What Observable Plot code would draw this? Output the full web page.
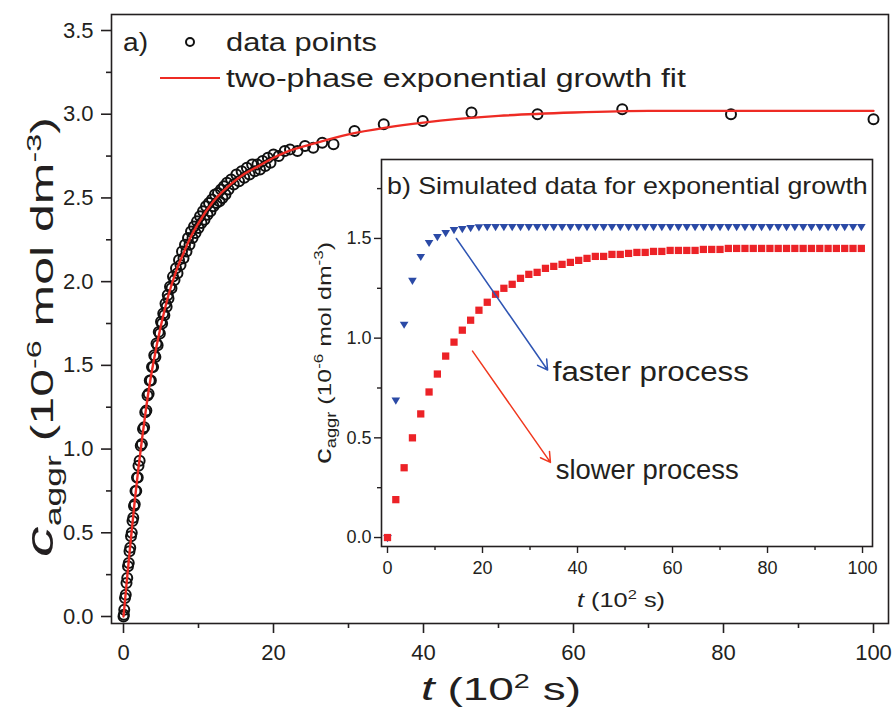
<!DOCTYPE html>
<html><head><meta charset="utf-8">
<script src="https://cdn.jsdelivr.net/npm/d3@7"></script>
<script src="https://cdn.jsdelivr.net/npm/@observablehq/plot@0.6"></script>
<style>
body{margin:0;background:#fff}
#wrap{position:relative;width:893px;height:707px}
#inset{position:absolute;left:300px;top:150px;width:580px;height:470px}
</style>
</head><body>
<div id="wrap"><div id="main"></div><div id="inset"></div></div>
<script>
// ---- main panel a): measured data points [t (10^2 s), c_aggr (10^-6 mol dm^-3)] ----
const mainPoints = [
 [0,0.00],[0.05,0.01],[0.1,0.04],[0.2,0.11],[0.3,0.13],[0.4,0.20],[0.5,0.23],[0.6,0.30],[0.7,0.32],[0.8,0.39],[0.9,0.41],
 [1.0,0.48],[1.1,0.50],[1.2,0.57],[1.3,0.59],[1.4,0.66],[1.5,0.67],[1.6,0.75],[1.7,0.75],[1.8,0.83],[1.9,0.83],[2.0,0.90],
 [2.15,0.93],[2.3,1.02],[2.45,1.03],[2.6,1.12],[2.75,1.13],[2.9,1.22],[3.05,1.23],[3.2,1.32],[3.35,1.33],[3.5,1.41],[3.65,1.41],
 [3.8,1.49],[3.95,1.49],[4.1,1.56],[4.25,1.55],[4.4,1.63],[4.55,1.62],[4.7,1.70],[4.85,1.69],[5.0,1.76],[5.15,1.75],[5.3,1.81],
 [5.45,1.80],[5.6,1.87],[5.75,1.85],[5.9,1.92],
 [6.0,1.90],[6.2,1.97],[6.4,1.96],[6.6,2.03],[6.8,2.01],[7.0,2.08],[7.2,2.05],[7.4,2.13],[7.6,2.10],[7.8,2.18],[8.0,2.14],
 [8.2,2.22],[8.4,2.18],[8.6,2.26],[8.8,2.22],[9.0,2.30],[9.2,2.26],[9.4,2.33],[9.6,2.29],[9.8,2.36],[10.0,2.32],[10.2,2.39],
 [10.4,2.35],[10.6,2.42],[10.8,2.37],[11.0,2.45],[11.2,2.40],[11.4,2.47],[11.6,2.42],[11.8,2.49],[12.0,2.45],[12.2,2.52],
 [12.4,2.47],[12.6,2.53],[12.8,2.48],[13.0,2.55],[13.2,2.50],[13.4,2.57],[13.6,2.52],[13.8,2.59],
 [14.0,2.55],[14.35,2.61],[14.7,2.58],[15.05,2.64],[15.4,2.60],[15.75,2.66],[16.1,2.62],[16.45,2.68],[16.8,2.64],[17.15,2.70],
 [17.5,2.66],[17.85,2.70],[18.2,2.67],[18.55,2.72],[18.9,2.69],[19.25,2.74],[19.6,2.71],[20.0,2.76],
 [20.7,2.75],[21.5,2.78],[22.2,2.79],[23.2,2.78],[24.2,2.81],[25.3,2.80],[26.5,2.83],[28.0,2.82],
 [30.8,2.90],[34.7,2.94],[39.9,2.96],[46.4,3.01],[55.2,3.00],[66.5,3.03],[81.0,3.00],[100,2.97]
];
// two-phase exponential growth fit
const fitT = [0,0.5,1,1.5,2,2.5,3,3.5,4,5,6,7,8,9,10,12,14,16,18,20,22,25,30,35,40,50,60,70,80,100];
const fitC = [0,0.24,0.47,0.69,0.89,1.07,1.24,1.39,1.52,1.74,1.92,2.06,2.17,2.27,2.35,2.48,2.57,2.64,2.69,2.74,2.78,2.82,2.88,2.92,2.95,2.99,3.01,3.02,3.02,3.02];
const mainXTicks = [0,20,40,60,80,100];
const mainXMinor = [10,30,50,70,90];
const mainYTicks = [0,0.5,1,1.5,2,2.5,3,3.5];
const mainYMinor = [0.25,0.75,1.25,1.75,2.25,2.75,3.25];

// ---- inset b): simulated data ----
const simT = [0,1.75,3.5,5.25,7,8.75,10.5,12.25,14,15.75,17.5,19.25,21,22.75,24.5,26.25,28,29.75,31.5,33.25,35,36.75,38.5,40.25,42,43.75,45.5,47.25,49,50.75,52.5,54.25,56,57.75,59.5,61.25,63,64.75,66.5,68.25,70,71.75,73.5,75.25,77,78.75,80.5,82.25,84,85.75,87.5,89.25,91,92.75,94.5,96.25,98,99.75];
const fastC = [0,0.69,1.07,1.29,1.41,1.48,1.51,1.53,1.545,1.55,1.555,1.558,1.56,1.56,1.56,1.56,1.56,1.56,1.56,1.56,1.56,1.56,1.56,1.56,1.56,1.56,1.56,1.56,1.56,1.56,1.56,1.56,1.56,1.56,1.56,1.56,1.56,1.56,1.56,1.56,1.56,1.56,1.56,1.56,1.56,1.56,1.56,1.56,1.56,1.56,1.56,1.56,1.56,1.56,1.56,1.56,1.56,1.56];
const slowC = [0,0.19,0.35,0.50,0.62,0.73,0.82,0.91,0.98,1.04,1.09,1.14,1.18,1.22,1.25,1.27,1.30,1.32,1.33,1.35,1.36,1.37,1.38,1.39,1.40,1.41,1.41,1.42,1.42,1.425,1.43,1.43,1.435,1.435,1.44,1.44,1.44,1.44,1.445,1.445,1.445,1.45,1.45,1.45,1.45,1.45,1.45,1.45,1.45,1.45,1.45,1.45,1.45,1.45,1.45,1.45,1.45,1.45];
const insetXTicks = [0,20,40,60,80,100];
const insetXMinor = [10,30,50,70,90];
const insetYTicks = [0,0.5,1,1.5];
const insetYMinor = [0.25,0.75,1.25,1.75];
// annotation arrows and labels (data coordinates of the inset)
const arrowKind = ["fast","slow"];
const arrowT1 = [14.5,17.9], arrowC1 = [1.50,0.935], arrowT2 = [33.7,34.3], arrowC2 = [0.84,0.377];
const noteLabels = ["faster process","slower process"];
const noteT = [34.8,35.4], noteC = [0.83,0.335];

const font = "'Liberation Sans', Arial, Helvetica, sans-serif";
const ink = "#231f20";
const RED = "#ec2227", BLUE = "#2b4aa6";

const mainData = mainPoints.map(([t, c]) => ({t, c}));
const fitData = fitT.map((t,i)=>({t, c: fitC[i]}));
const simData = simT.map((t,i)=>({t, fast: fastC[i], slow: slowC[i]}));
const arrows = arrowKind.map((k,i)=>({kind:k, t1:arrowT1[i], c1:arrowC1[i], t2:arrowT2[i], c2:arrowC2[i]}));
const notes = noteLabels.map((l,i)=>({label:l, t:noteT[i], c:noteC[i]}));

const triDown = {draw(ctx, size){ const r = Math.sqrt(size/Math.PI); ctx.moveTo(-1.2*r,-0.7*r); ctx.lineTo(1.2*r,-0.7*r); ctx.lineTo(0,1.3*r); ctx.closePath(); }};

const main = Plot.plot({
  width: 893, height: 707,
  marginLeft: 111, marginTop: 14, marginRight: 5, marginBottom: 84,
  x: {domain: [-1.6, 102]},
  y: {domain: [-0.0418, 3.5956]},
  style: {fontFamily: font, fontSize: "22px", color: ink, background: "white", overflow: "visible"},
  marks: [
    Plot.dot(mainData, {x: "t", y: "c", r: 5, stroke: "#111", strokeWidth: 2, fill: "none"}),
    Plot.line(fitData, {x: "t", y: "c", stroke: "#ee2b24", strokeWidth: 2.4, curve: "monotone-x"}),
    Plot.axisX(mainXTicks, {tickSize: 10, tickPadding: 11, fontSize: 22, label: null, tickFormat: d => String(d), strokeWidth: 1.6}),
    Plot.axisX(mainXMinor, {tickSize: 5, label: null, tickFormat: () => "", strokeWidth: 1.6}),
    Plot.axisY(mainYTicks, {tickSize: 10, tickPadding: 8, fontSize: 22, label: null, tickFormat: d3.format(".1f"), strokeWidth: 1.6}),
    Plot.axisY(mainYMinor, {tickSize: 5, label: null, tickFormat: () => "", strokeWidth: 1.6}),
    Plot.frame({stroke: ink, strokeWidth: 1.6})
  ]
});
document.getElementById("main").append(main);

const inset = Plot.plot({
  width: 580, height: 470,
  marginLeft: 81, marginTop: 9, marginRight: 8, marginBottom: 74,
  x: {domain: [-1.263, 102.1]},
  y: {domain: [-0.045, 1.896]},
  style: {fontFamily: font, fontSize: "18px", color: ink, background: "none", overflow: "visible"},
  marks: [
    Plot.frame({fill: "white", stroke: "none"}),
    Plot.dot(simData, {x: "t", y: "fast", symbol: triDown, r: 3.6, fill: BLUE, stroke: "none"}),
    Plot.dot(simData, {x: "t", y: "slow", symbol: "square", r: 4.1, fill: RED, stroke: "none"}),
    Plot.arrow(arrows.filter(a => a.kind === "fast"), {x1: "t1", y1: "c1", x2: "t2", y2: "c2", stroke: "#2f55b3", strokeWidth: 1.5, headLength: 11}),
    Plot.arrow(arrows.filter(a => a.kind === "slow"), {x1: "t1", y1: "c1", x2: "t2", y2: "c2", stroke: "#f0381f", strokeWidth: 1.5, headLength: 11}),
    Plot.text(notes, {x: "t", y: "c", text: "label", textAnchor: "start", fontSize: 27, fill: ink}),
    Plot.axisX(insetXTicks, {tickSize: 7, tickPadding: 8, fontSize: 18, label: null, tickFormat: d => String(d), strokeWidth: 1.4}),
    Plot.axisX(insetXMinor, {tickSize: 4, label: null, tickFormat: () => "", strokeWidth: 1.4}),
    Plot.axisY(insetYTicks, {tickSize: 7, tickPadding: 3, fontSize: 18, label: null, tickFormat: d3.format(".1f"), strokeWidth: 1.4}),
    Plot.axisY(insetYMinor, {tickSize: 4, label: null, tickFormat: () => "", strokeWidth: 1.4}),
    Plot.frame({stroke: ink, strokeWidth: 1.6})
  ]
});
document.getElementById("inset").append(inset);

function addText(svg, {x, y, anchor = "start", rotate = 0, size, len, parts, fill = ink}) {
  const t = d3.select(svg).append("text")
    .attr("font-family", font).attr("font-size", size).attr("fill", fill).attr("text-anchor", anchor);
  parts.forEach(p => {
    const s = t.append("tspan").text(p.text);
    if (p.size) s.attr("font-size", p.size);
    if (p.italic) s.attr("font-style", "italic");
    if (p.dy) s.attr("dy", p.dy);
  });
  const natural = t.node().getComputedTextLength();
  const k = len ? len / natural : 1;
  t.attr("transform", `translate(${x},${y}) rotate(${rotate}) scale(${k},1)`);
  return t;
}

// legend of panel a)
const msvg = main;
addText(msvg, {x: 123, y: 51, size: 26, len: 25, parts: [{text: "a)"}]});
d3.select(msvg).append("circle").attr("cx", 190).attr("cy", 42).attr("r", 4).attr("fill", "none").attr("stroke", "#111").attr("stroke-width", 2);
addText(msvg, {x: 226, y: 51, size: 26, len: 151, parts: [{text: "data points"}]});
d3.select(msvg).append("line").attr("x1", 160).attr("x2", 220).attr("y1", 78).attr("y2", 78).attr("stroke", "#ee2b24").attr("stroke-width", 2);
addText(msvg, {x: 226, y: 87, size: 26, len: 460, parts: [{text: "two-phase exponential growth fit"}]});
// axis titles of panel a)
addText(msvg, {x: 501, y: 700, anchor: "middle", size: 32, len: 160, parts: [
  {text: "t", italic: true, size: 34}, {text: " (10"}, {text: "2", size: 20, dy: -12}, {text: " s)", dy: 12}]});
addText(msvg, {x: 53, y: 337, anchor: "middle", rotate: -90, size: 31, len: 440, parts: [
  {text: "c", italic: true, size: 38}, {text: "aggr", size: 22, dy: 8}, {text: " (10", dy: -8},
  {text: "-6", size: 20, dy: -12}, {text: " mol dm", dy: 12}, {text: "-3", size: 20, dy: -12}, {text: ")", dy: 12}]});

// inset texts
const isvg = inset;
addText(isvg, {x: 87, y: 44, size: 23, len: 481, parts: [{text: "b) Simulated data for exponential growth"}]});
addText(isvg, {x: 321, y: 457, anchor: "middle", size: 20, len: 88, parts: [
  {text: "t", italic: true}, {text: " (10"}, {text: "2", size: 13, dy: -8}, {text: " s)", dy: 8}]});
addText(isvg, {x: 31, y: 203, anchor: "middle", rotate: -90, size: 19, len: 222, parts: [
  {text: "c", size: 24}, {text: "aggr", size: 14, dy: 5}, {text: " (10", dy: -5},
  {text: "-6", size: 13, dy: -8}, {text: " mol dm", dy: 8}, {text: "-3", size: 13, dy: -8}, {text: ")", dy: 8}]});
const noteLen = {"faster process": 196, "slower process": 183};
d3.select(isvg).selectAll("text").filter(function(){ return noteLen[this.textContent] !== undefined && this.children.length === 0; })
  .attr("textLength", function(){ return noteLen[this.textContent]; }).attr("lengthAdjust", "spacingAndGlyphs");
</script>
</body></html>
